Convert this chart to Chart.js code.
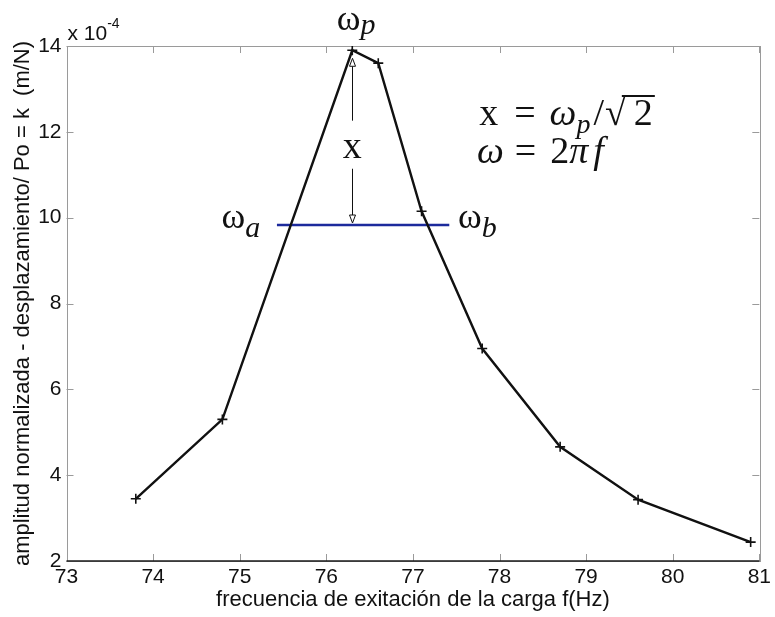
<!DOCTYPE html>
<html>
<head>
<meta charset="utf-8">
<script src="https://cdn.jsdelivr.net/npm/chart.js@4.4.0/dist/chart.umd.min.js"></script>
<style>
html, body { margin: 0; padding: 0; background: #fff; }
</style>
</head>
<body>
<canvas id="amp_chart" width="775" height="617"></canvas>
<script>
// frecuencia de excitación (Hz) y amplitud normalizada (x 1e-4 m/N)
const freq = [73.8, 74.8, 76.3, 76.6, 77.1, 77.8, 78.7, 79.6, 80.9];
const amp = [3.45, 5.3, 13.9, 13.6, 10.15, 6.95, 4.66, 3.43, 2.44];
const xTicks = [73, 74, 75, 76, 77, 78, 79, 80, 81];
const yTicks = [2, 4, 6, 8, 10, 12, 14];

// ancho de banda de media potencia
const peakIndex = 2;
const halfPower = amp[peakIndex] / Math.SQRT2;
const bandLimits = [75.43, 77.42];

// posiciones de las etiquetas (en unidades de los ejes)
const labelOmegaP = [76.12, 14.37];
const labelOmegaA = [74.79, 9.77];
const labelOmegaB = [77.52, 9.77];
const labelX = [76.3, 11.40];
const formulaPos = [[77.765, 12.16], [77.74, 11.28]];
const arrowGap = [12.26, 11.14];

const serif = '"Liberation Serif", "DejaVu Serif", serif';
const sans = '"Liberation Sans", Arial, sans-serif';

// texto con subíndice: base + sub
function drawSub(ctx, base, sub, px, py, baseFont, subFont, dy) {
	ctx.font = baseFont;
	ctx.fillText(base, px, py);
	const w = ctx.measureText(base).width;
	ctx.font = subFont;
	ctx.fillText(sub, px + w, py + dy);
	return w + ctx.measureText(sub).width;
}

// escribe una fórmula pieza por pieza
function drawPieces(ctx, pieces, px, py) {
	let cx = px;
	pieces.forEach(function (p) {
		cx += p.gap || 0;
		ctx.font = p.font;
		ctx.fillText(p.t, cx, py + (p.dy || 0));
		const w = ctx.measureText(p.t).width;
		if (p.bar) {
			ctx.lineWidth = 2;
			ctx.beginPath();
			ctx.moveTo(cx - 12, py - 29); ctx.lineTo(cx + w + 2, py - 29);
			ctx.stroke();
		}
		cx += w;
	});
}

// triángulo abierto de la flecha
function openTriangle(ctx, cx, tipY, dir) {
	ctx.beginPath();
	ctx.moveTo(cx, tipY);
	ctx.lineTo(cx - 3, tipY - dir * 8);
	ctx.lineTo(cx + 3, tipY - dir * 8);
	ctx.closePath();
	ctx.fillStyle = '#fff';
	ctx.fill();
	ctx.stroke();
}

// caja estilo MATLAB con marcas hacia adentro
const boxPlugin = {
	id: 'boxPlugin',
	beforeDatasetsDraw(chart) {
		const { ctx, chartArea: { left, right, top, bottom }, scales: { x, y } } = chart;
		ctx.save();
		ctx.strokeStyle = '#9a9a9a';
		ctx.lineWidth = 1;
		xTicks.forEach(function (v) {
			const px = Math.round(x.getPixelForValue(v)) + 0.5;
			ctx.beginPath();
			ctx.moveTo(px, bottom); ctx.lineTo(px, bottom - 7);
			ctx.moveTo(px, top); ctx.lineTo(px, top + 7);
			ctx.stroke();
		});
		yTicks.forEach(function (v) {
			const py = Math.round(y.getPixelForValue(v)) + 0.5;
			ctx.beginPath();
			ctx.moveTo(left, py); ctx.lineTo(left + 7, py);
			ctx.moveTo(right, py); ctx.lineTo(right - 7, py);
			ctx.stroke();
		});
		ctx.strokeRect(Math.round(left) + 0.5, Math.round(top) + 0.5, Math.round(right - left), Math.round(bottom - top));
		ctx.strokeStyle = '#1a1a1a';
		ctx.lineWidth = 1.5;
		ctx.beginPath();
		ctx.moveTo(left, bottom); ctx.lineTo(right, bottom);
		ctx.stroke();

		// factor de escala del eje y
		ctx.fillStyle = '#111';
		ctx.textBaseline = 'alphabetic';
		ctx.font = '21px ' + sans;
		ctx.fillText('x 10', left + 1, top - 6);
		const w = ctx.measureText('x 10').width;
		ctx.font = '14px ' + sans;
		ctx.fillText('-4', left + 1 + w, top - 18);
		ctx.restore();
	}
};

// flecha, etiquetas ω y fórmulas
const annotatePlugin = {
	id: 'annotatePlugin',
	afterDatasetsDraw(chart) {
		const { ctx, scales: { x, y } } = chart;
		ctx.save();
		const ax = Math.round(x.getPixelForValue(freq[peakIndex])) + 0.5;
		const yTop = y.getPixelForValue(amp[peakIndex]) + 8;
		const yBot = y.getPixelForValue(halfPower) - 2;
		ctx.strokeStyle = '#111';
		ctx.lineWidth = 1;
		ctx.beginPath();
		ctx.moveTo(ax, yTop + 8); ctx.lineTo(ax, y.getPixelForValue(arrowGap[0]));
		ctx.moveTo(ax, y.getPixelForValue(arrowGap[1])); ctx.lineTo(ax, yBot - 8);
		ctx.stroke();
		openTriangle(ctx, ax, yTop, -1);
		openTriangle(ctx, ax, yBot, 1);

		ctx.fillStyle = '#111';
		ctx.textBaseline = 'alphabetic';
		const big = '36px ' + serif;
		const sub = 'italic 30px ' + serif;

		drawSub(ctx, 'ω', 'p', x.getPixelForValue(labelOmegaP[0]), y.getPixelForValue(labelOmegaP[1]), big, sub, 4);
		drawSub(ctx, 'ω', 'a', x.getPixelForValue(labelOmegaA[0]), y.getPixelForValue(labelOmegaA[1]), big, sub, 9);
		drawSub(ctx, 'ω', 'b', x.getPixelForValue(labelOmegaB[0]), y.getPixelForValue(labelOmegaB[1]), big, sub, 9);

		ctx.font = '38px ' + serif;
		ctx.textAlign = 'center';
		ctx.fillText('x', x.getPixelForValue(labelX[0]), y.getPixelForValue(labelX[1]));
		ctx.textAlign = 'left';

		const up = '38px ' + serif;
		const it = 'italic 38px ' + serif;
		// x = ωp/√2
		drawPieces(ctx, [
			{ t: 'x', font: up },
			{ t: '=', font: up, gap: 16 },
			{ t: 'ω', font: it, gap: 14 },
			{ t: 'p', font: 'italic 28px ' + serif, dy: 8 },
			{ t: '/', font: up, gap: 3 },
			{ t: '√', font: up, gap: 1 },
			{ t: '2', font: up, gap: 8, bar: true }
		], x.getPixelForValue(formulaPos[0][0]), y.getPixelForValue(formulaPos[0][1]));
		// ω = 2πf
		drawPieces(ctx, [
			{ t: 'ω', font: it },
			{ t: '=', font: up, gap: 11 },
			{ t: '2', font: up, gap: 14 },
			{ t: 'π', font: it, gap: 0 },
			{ t: 'f', font: it, gap: 5 }
		], x.getPixelForValue(formulaPos[1][0]), y.getPixelForValue(formulaPos[1][1]));
		ctx.restore();
	}
};

const points = freq.map(function (f, i) { return { x: f, y: amp[i] }; });
const band = bandLimits.map(function (f) { return { x: f, y: halfPower }; });

new Chart(document.getElementById('amp_chart').getContext('2d'), {
	type: 'line',
	data: {
		datasets: [
			{
				data: points,
				borderColor: '#111',
				borderWidth: 2.4,
				pointStyle: 'cross',
				pointRadius: 5,
				pointBorderWidth: 1.6,
				pointBorderColor: '#111',
				fill: false,
				tension: 0
			},
			{
				data: band,
				borderColor: '#1c2a9c',
				borderWidth: 2.6,
				pointRadius: 0,
				fill: false
			}
		]
	},
	options: {
		responsive: false,
		animation: false,
		devicePixelRatio: 1,
		layout: { padding: { top: 46, right: 12, left: 0, bottom: 0 } },
		plugins: {
			legend: { display: false },
			tooltip: { enabled: false }
		},
		scales: {
			x: {
				type: 'linear',
				min: 73,
				max: 81,
				grid: { display: false, drawTicks: false },
				border: { display: false },
				ticks: {
					stepSize: 1,
					padding: 4,
					color: '#111',
					font: { family: sans, size: 21 }
				},
				title: {
					display: true,
					text: 'frecuencia de exitación de la carga f(Hz)',
					color: '#111',
					font: { family: sans, size: 22 },
					padding: { top: 0, bottom: 4 }
				},
				afterFit: function (s) { s.height = 56; }
			},
			y: {
				type: 'linear',
				min: 2,
				max: 14,
				grid: { display: false, drawTicks: false },
				border: { display: false },
				ticks: {
					stepSize: 2,
					padding: 5,
					color: '#111',
					font: { family: sans, size: 21 }
				},
				title: {
					display: true,
					text: 'amplitud normalizada - desplazamiento/ Po = k  (m/N)',
					color: '#111',
					font: { family: sans, size: 22 },
					padding: { top: 10, bottom: 0 }
				},
				afterFit: function (s) { s.width = 66.5; }
			}
		}
	},
	plugins: [boxPlugin, annotatePlugin]
});
</script>
</body>
</html>
